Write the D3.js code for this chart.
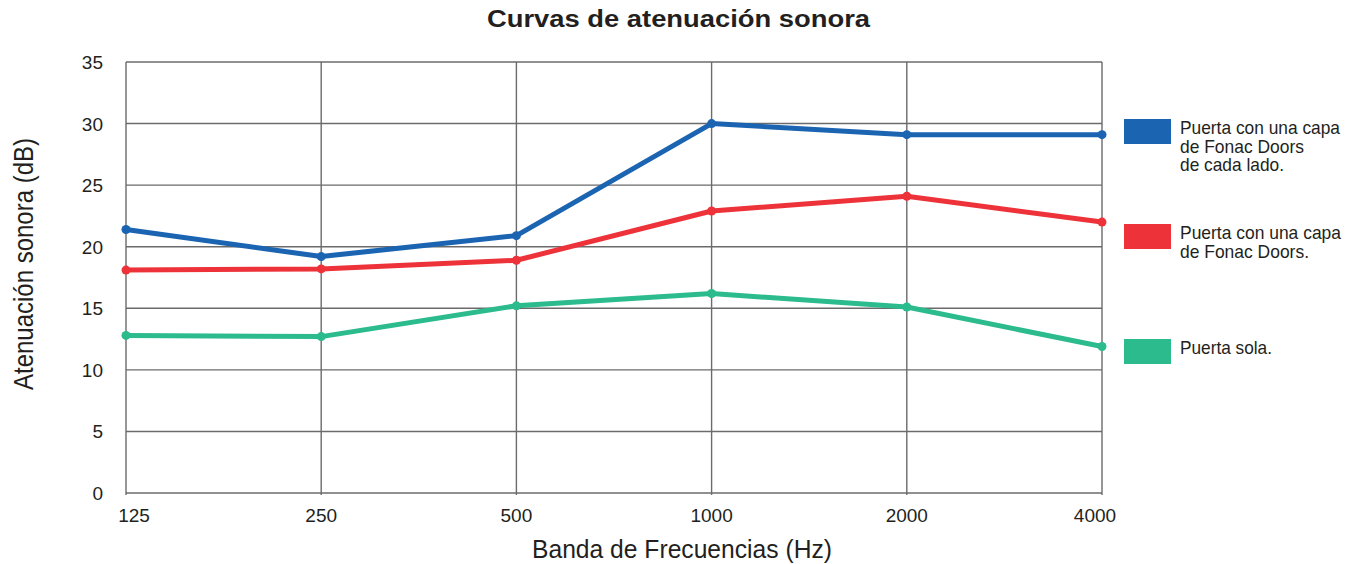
<!DOCTYPE html>
<html>
<head>
<meta charset="utf-8">
<script src="https://cdn.jsdelivr.net/npm/d3@7"></script>
<style>
  body { margin: 0; background: #fff; }
  text { font-family: "Liberation Sans", Arial, sans-serif; fill: #231f20; }
</style>
</head>
<body>
<div id="chart"></div>
<script>
// data
const frequencies = ["125", "250", "500", "1000", "2000", "4000"];
const seriesNames = [
  ["Puerta con una capa", "de Fonac Doors", "de cada lado."],
  ["Puerta con una capa", "de Fonac Doors."],
  ["Puerta sola."]
];
const bothSides = [21.4, 19.2, 20.9, 30.0, 29.1, 29.1];
const oneSide = [18.1, 18.2, 18.9, 22.9, 24.1, 22.0];
const doorOnly = [12.8, 12.7, 15.2, 16.2, 15.1, 11.9];
const yTicks = [0, 5, 10, 15, 20, 25, 30, 35];
const colors = ["#1a64b2", "#ee3239", "#2bbb8d"];

const width = 1359;
const height = 564;
const margin = { top: 62, right: 257, bottom: 71, left: 126 };

const svg = d3.select('#chart')
  .append('svg')
  .attr('width', width)
  .attr('height', height);

const x = d3.scalePoint()
  .domain(frequencies)
  .range([margin.left, width - margin.right]);

const y = d3.scaleLinear()
  .domain([0, 35])
  .range([height - margin.bottom, margin.top]);

// grid
svg.append('g')
  .selectAll('line')
  .data(yTicks)
  .enter()
  .append('line')
  .attr('x1', margin.left)
  .attr('x2', width - margin.right)
  .attr('y1', d => y(d))
  .attr('y2', d => y(d))
  .attr('stroke', '#6b6b6b')
  .attr('stroke-width', 1.4);

svg.append('g')
  .selectAll('line')
  .data(frequencies)
  .enter()
  .append('line')
  .attr('x1', d => x(d))
  .attr('x2', d => x(d))
  .attr('y1', y(35))
  .attr('y2', y(0) + 2)
  .attr('stroke', '#6b6b6b')
  .attr('stroke-width', 1.4);

// y labels
svg.append('g')
  .selectAll('text')
  .data(yTicks)
  .enter()
  .append('text')
  .attr('x', 103)
  .attr('y', d => y(d) + 7)
  .attr('text-anchor', 'end')
  .style('font-size', '19px')
  .text(d => d);

// x labels
svg.append('g')
  .selectAll('text')
  .data(frequencies)
  .enter()
  .append('text')
  .attr('x', (d, i) => x(d) + (i === 0 ? 8 : i === frequencies.length - 1 ? -7 : 0))
  .attr('y', 522)
  .attr('text-anchor', 'middle')
  .style('font-size', '19px')
  .text(d => d);

// lines
const allSeries = [bothSides, oneSide, doorOnly];
const line = d3.line()
  .x((d, i) => x(frequencies[i]))
  .y(d => y(d));

allSeries.forEach(function(values, k) {
  svg.append('path')
    .datum(values)
    .attr('d', line)
    .attr('fill', 'none')
    .attr('stroke', colors[k])
    .attr('stroke-width', 5)
    .attr('stroke-linejoin', 'round');

  svg.append('g')
    .selectAll('circle')
    .data(values)
    .enter()
    .append('circle')
    .attr('cx', (d, i) => x(frequencies[i]))
    .attr('cy', d => y(d))
    .attr('r', 4.5)
    .attr('fill', colors[k]);
});

// legend
const legendTop = [119, 224, 339];
const legendWidths = [[160, 124, 104], [161, 129], [92]];
seriesNames.forEach(function(lines, k) {
  svg.append('rect')
    .attr('x', 1124)
    .attr('y', legendTop[k])
    .attr('width', 47)
    .attr('height', 25)
    .attr('fill', colors[k]);

  lines.forEach(function(s, j) {
    svg.append('text')
      .attr('x', 1180)
      .attr('y', legendTop[k] + 15 + j * 18.7)
      .attr('textLength', legendWidths[k][j])
      .attr('lengthAdjust', 'spacingAndGlyphs')
      .style('font-size', '19px')
      .text(s);
  });
});

// title
svg.append('text')
  .text('Curvas de atenuación sonora')
  .attr('x', 487)
  .attr('y', 27)
  .attr('textLength', 383)
  .attr('lengthAdjust', 'spacingAndGlyphs')
  .style('font-size', '23px')
  .style('font-weight', 'bold');

// axis titles
svg.append('text')
  .text('Banda de Frecuencias (Hz)')
  .attr('x', 532)
  .attr('y', 558)
  .attr('textLength', 300)
  .attr('lengthAdjust', 'spacingAndGlyphs')
  .style('font-size', '25px');

svg.append('text')
  .text('Atenuación sonora (dB)')
  .attr('transform', 'translate(33,264) scale(1.16,1) rotate(-90)')
  .attr('text-anchor', 'middle')
  .attr('x', 0)
  .attr('y', 0)
  .style('font-size', '24px');
</script>
</body>
</html>
